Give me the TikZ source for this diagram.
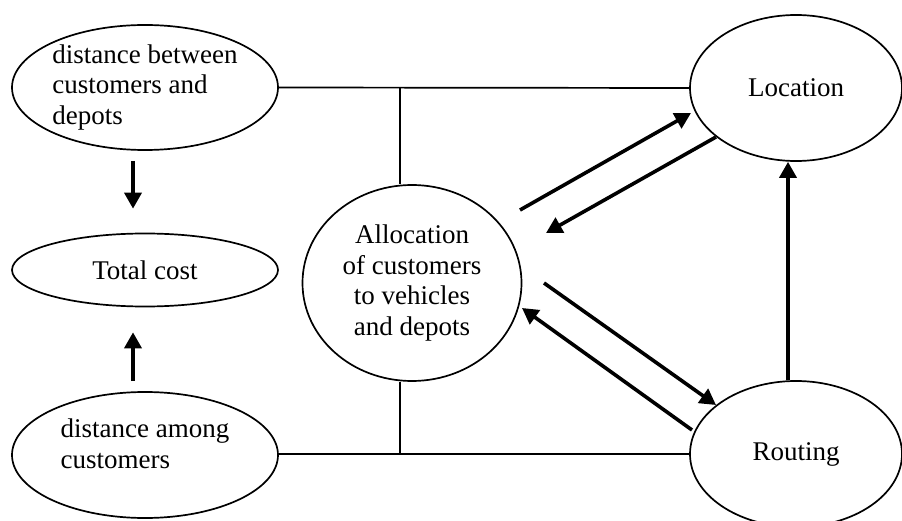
\documentclass[tikz,border=0pt]{standalone}
\usepackage{fontspec}
\setmainfont{Liberation Serif}
\usepackage{tikz}
\usetikzlibrary{shapes.geometric, positioning, arrows.meta}

\tikzset{
  elipse/.style={draw, ellipse, line width=1.7pt, inner sep=0pt, align=left},
  flecha/.style={line width=3.6pt, -{Triangle[length=16pt,width=17pt]}},
  linea/.style={line width=1.7pt}
}

\begin{document}
\begin{tikzpicture}[x=1pt, y=-1pt, font=\fontsize{27}{30.5}\selectfont]

% Marco de la figura
\useasboundingbox (0,0) rectangle (902,521);

% Elipses de la izquierda
\node[elipse, minimum width=266pt, minimum height=125pt] (entre) at (145,87.5) {distance between\\customers and\\depots};  % Distancia clientes-depósitos
\node[elipse, minimum width=266pt, minimum height=73pt] (total) at (145,270) {Total cost};  % Costo total
\node[elipse, minimum width=266pt, minimum height=126pt] (entreclientes) at (145,455) {};  % Distancia entre clientes
\node[align=left] (txtclientes) at (145,444) {distance among\\customers};

% Círculo central y elipses de la derecha
\node[elipse, align=center, minimum width=219pt, minimum height=196pt] (asignacion) at (412,283) {Allocation\\of customers\\to vehicles\\and depots};  % Asignación
\node[elipse, minimum width=212pt, minimum height=146pt] (ubicacion) at (796,88) {Location};  % Ubicación
\node[elipse, minimum width=212pt, minimum height=146pt] (ruteo) at (796,454) {Routing};  % Ruteo

% Líneas de unión
\coordinate (arriba) at (400,88);
\coordinate (abajo) at (400,454);
\draw[linea] (entre.east) -- (ubicacion.west);
\draw[linea] (arriba) -- (arriba |- asignacion.north);
\draw[linea] (entreclientes.east |- ruteo.west) -- (ruteo.west);
\draw[linea] (abajo) -- (abajo |- asignacion.south);

% Flechas de la izquierda
\draw[flecha, shorten <=10pt, shorten >=24pt] ([xshift=-12pt]entre.south) -- ([xshift=-12pt]total.north);
\draw[flecha, shorten <=10pt, shorten >=25pt] ([xshift=-12pt]entreclientes.north) -- ([xshift=-12pt]total.south);

% Flechas de la derecha
\draw[flecha] ([shift={(108,-73)}]asignacion.center) -- ([shift={(-105,25)}]ubicacion.center);
\draw[flecha] ([shift={(-80,49)}]ubicacion.center) -- ([shift={(134,-50)}]asignacion.center);
\draw[flecha] ([shift={(132,0)}]asignacion.center) -- ([shift={(-80,-49)}]ruteo.center);
\draw[flecha] ([shift={(-104,-24)}]ruteo.center) -- ([shift={(110,25)}]asignacion.center);
\draw[flecha] ([xshift=-8pt]ruteo.north) -- ([xshift=-8pt]ubicacion.south);

\end{tikzpicture}
\end{document}
